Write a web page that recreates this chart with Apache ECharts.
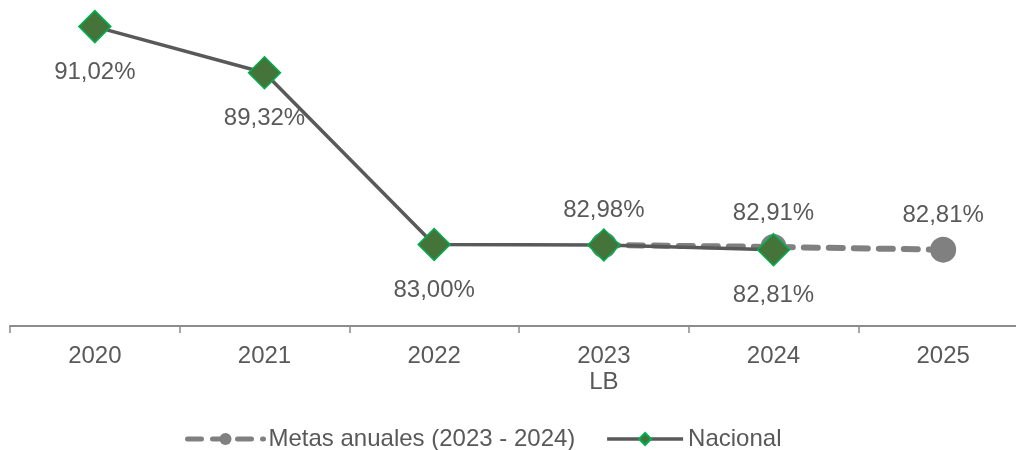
<!DOCTYPE html>
<html><head><meta charset="utf-8">
<script src="https://cdn.jsdelivr.net/npm/echarts@6/dist/echarts.min.js"></script>
<style>html,body{margin:0;padding:0;background:#fff}#c{width:1016px;height:450px}</style>
</head><body><div id="c"></div>
<script>
const categories = ['2020', '2021', '2022', '2023\nLB', '2024', '2025'];
const nacional = [91.02, 89.32, 83.00, 82.98, 82.81, null];
const metas = [null, null, null, 82.98, 82.91, 82.81];
const nacionalLabelPos = ['bottom', 'bottom', 'bottom', 'top', 'bottom', 'bottom'];
const nacionalLabelShow = [true, true, true, true, true, false];
const metasLabelShow = [false, false, false, false, true, true];

const fmt = v => v.toFixed(2).replace('.', ',') + '%';
const FONT = '"Liberation Sans", Arial, sans-serif';
const TXT = '#595959';

const chart = echarts.init(document.getElementById('c'), null, {renderer: 'canvas'});
chart.setOption({
  animation: false,
  textStyle: {fontFamily: FONT},
  grid: {left: 10, width: 1018, top: 0, bottom: 124, containLabel: false, outerBoundsMode: 'none'},
  xAxis: {
    type: 'category', data: categories, boundaryGap: true,
    axisLine: {lineStyle: {color: '#8c8c8c', width: 2}},
    axisTick: {show: true, length: 7, lineStyle: {color: '#8c8c8c', width: 1.5}},
    axisLabel: {color: TXT, fontSize: 24, fontFamily: FONT, margin: 17, lineHeight: 26}
  },
  yAxis: {type: 'value', min: 80, max: 92, show: false, splitLine: {show: false}},
  legend: {
    top: 422, left: 180, itemGap: 30, itemWidth: 76, itemHeight: 15,
    textStyle: {color: TXT, fontSize: 24, fontFamily: FONT},
    data: [
      {name: 'Metas anuales (2023 - 2024)', lineStyle: {width: 5}},
      {name: 'Nacional', lineStyle: {width: 3.5}}
    ]
  },
  series: [
    {
      name: 'Metas anuales (2023 - 2024)', type: 'line', data: metas.map((v, i) => ({
        value: v,
        label: {show: metasLabelShow[i], position: 'top', distance: 9}
      })),
      symbol: 'circle', symbolSize: 26, z: 2,
      lineStyle: {color: '#808080', width: 6, type: [14, 11], cap: 'round'},
      itemStyle: {color: '#808080'},
      label: {color: TXT, fontSize: 24, fontFamily: FONT, formatter: p => fmt(p.value)}
    },
    {
      name: 'Nacional', type: 'line', data: nacional.map((v, i) => ({
        value: v,
        label: {show: nacionalLabelShow[i], position: nacionalLabelPos[i], distance: nacionalLabelPos[i] === 'top' ? 6 : 17}
      })),
      symbol: 'diamond', symbolSize: 32, z: 3,
      lineStyle: {color: '#595959', width: 3.5},
      itemStyle: {color: '#44743a', borderColor: '#00b050', borderWidth: 1.5},
      label: {color: TXT, fontSize: 24, fontFamily: FONT, formatter: p => fmt(p.value)}
    }
  ]
});
</script></body></html>
